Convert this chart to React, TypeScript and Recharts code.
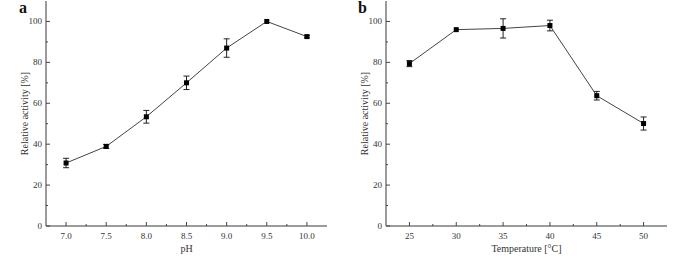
import { LineChart, Line, XAxis, YAxis, ErrorBar } from "recharts";

const phValues = [7.0, 7.5, 8.0, 8.5, 9.0, 9.5, 10.0];
const phActivity = [30.8, 38.9, 53.4, 70.0, 87.0, 100, 92.6];
const phError = [2.3, 1.0, 3.1, 3.3, 4.5, 0, 0.6];

const tempValues = [25, 30, 35, 40, 45, 50];
const tempActivity = [79.4, 96.0, 96.6, 98.0, 63.7, 50.1];
const tempError = [1.5, 0, 4.7, 2.6, 2.1, 3.2];

const yTicks = [0, 10, 20, 30, 40, 50, 60, 70, 80, 90, 100];
const yMajor = [0, 20, 40, 60, 80, 100];
const phTicks = [7.0, 7.25, 7.5, 7.75, 8.0, 8.25, 8.5, 8.75, 9.0, 9.25, 9.5, 9.75, 10.0];
const phMajor = [7.0, 7.5, 8.0, 8.5, 9.0, 9.5, 10.0];
const tempTicks = [25, 27.5, 30, 32.5, 35, 37.5, 40, 42.5, 45, 47.5, 50];
const tempMajor = [25, 30, 35, 40, 45, 50];

const FONT = "'Liberation Serif', 'Times New Roman', serif";
const FRAME = "#7a7a7a";

function makeXTick(major: number[], fmt: (v: number) => string) {
  return (props: any) => {
    const { x, y, payload } = props;
    const isMajor = major.includes(payload.value);
    return (
      <g>
        <line x1={x} x2={x} y1={y} y2={y - (isMajor ? 4 : 2)} stroke="#444" strokeWidth={1} />
        {isMajor && (
          <text x={x} y={y + 13} textAnchor="middle" fontSize={9} fill="#333" fontFamily={FONT}>
            {fmt(payload.value)}
          </text>
        )}
      </g>
    );
  };
}

function YTick(props: any) {
  const { x, y, payload } = props;
  const isMajor = yMajor.includes(payload.value);
  return (
    <g>
      <line x1={x} x2={x + (isMajor ? 4 : 2)} y1={y} y2={y} stroke="#444" strokeWidth={1} />
      {isMajor && (
        <text x={x - 4} y={y + 3} textAnchor="end" fontSize={9} fill="#333" fontFamily={FONT}>
          {payload.value}
        </text>
      )}
    </g>
  );
}

function SquareDot(props: any) {
  const { cx, cy } = props;
  if (cx == null || cy == null) return null;
  return <rect x={cx - 2.5} y={cy - 2.5} width={5} height={5} fill="#000" />;
}

interface PanelProps {
  data: { x: number; y: number; err: number }[];
  domain: [number, number];
  ticks: number[];
  major: number[];
  fmt: (v: number) => string;
  xLabel: string;
}

function Panel({ data, domain, ticks, major, fmt, xLabel }: PanelProps) {
  return (
    <LineChart width={340} height={259} data={data} margin={{ top: 1, right: 13, left: 0, bottom: 0 }}>
      <XAxis
        dataKey="x"
        type="number"
        domain={domain}
        ticks={ticks}
        interval={0}
        height={33}
        tickSize={0}
        tickMargin={0}
        tickLine={false}
        axisLine={{ stroke: FRAME, strokeWidth: 1.5 }}
        tick={makeXTick(major, fmt)}
        label={{
          content: (p: any) => (
            <text
              x={p.viewBox.x + p.viewBox.width / 2}
              y={p.viewBox.y + 26}
              textAnchor="middle"
              fontSize={10}
              fill="#333"
              fontFamily={FONT}
            >
              {xLabel}
            </text>
          ),
        }}
      />
      <XAxis xAxisId="top" orientation="top" dataKey="x" type="number" domain={domain} height={0} tick={false} tickLine={false} axisLine={{ stroke: FRAME, strokeWidth: 2 }} />
      <YAxis
        type="number"
        domain={[0, 110]}
        ticks={yTicks}
        interval={0}
        width={46}
        tickSize={0}
        tickMargin={0}
        tickLine={false}
        axisLine={{ stroke: FRAME, strokeWidth: 1.5 }}
        tick={YTick}
        label={{
          content: (p: any) => {
            const cx = 24;
            const cy = p.viewBox.y + p.viewBox.height / 2;
            return (
              <text
                x={cx}
                y={cy}
                transform={`rotate(-90 ${cx} ${cy})`}
                textAnchor="middle"
                dominantBaseline="central"
                fontSize={10}
                fill="#333"
                fontFamily={FONT}
              >
                Relative activity [%]
              </text>
            );
          },
        }}
      />
      <YAxis yAxisId="right" orientation="right" domain={[0, 110]} width={0} tick={false} tickLine={false} axisLine={{ stroke: FRAME, strokeWidth: 1.5 }} />
      <Line
        dataKey="y"
        stroke="#444"
        strokeWidth={1}
        dot={<SquareDot />}
        activeDot={false}
        isAnimationActive={false}
      >
        <ErrorBar dataKey="err" direction="y" width={3} stroke="#222" strokeWidth={1} />
      </Line>
    </LineChart>
  );
}

export default function App() {
  const phData = phValues.map((x, i) => ({ x, y: phActivity[i], err: phError[i] }));
  const tempData = tempValues.map((x, i) => ({ x, y: tempActivity[i], err: tempError[i] }));
  const letter: React.CSSProperties = {
    position: "absolute",
    top: 0,
    fontFamily: FONT,
    fontWeight: "bold",
    fontSize: 16,
    lineHeight: "16px",
    color: "#111",
  };
  return (
    <div style={{ position: "absolute", left: 0, top: 0, width: 685, height: 259, background: "#fff" }}>
      <div style={{ position: "absolute", left: 0, top: 0 }}>
        <Panel data={phData} domain={[6.75, 10.25]} ticks={phTicks} major={phMajor} fmt={(v) => v.toFixed(1)} xLabel="pH" />
      </div>
      <div style={{ position: "absolute", left: 340, top: 0 }}>
        <Panel data={tempData} domain={[22.5, 52.5]} ticks={tempTicks} major={tempMajor} fmt={(v) => String(v)} xLabel="Temperature [°C]" />
      </div>
      <span style={{ ...letter, left: 19 }}>a</span>
      <span style={{ ...letter, left: 358 }}>b</span>
    </div>
  );
}
